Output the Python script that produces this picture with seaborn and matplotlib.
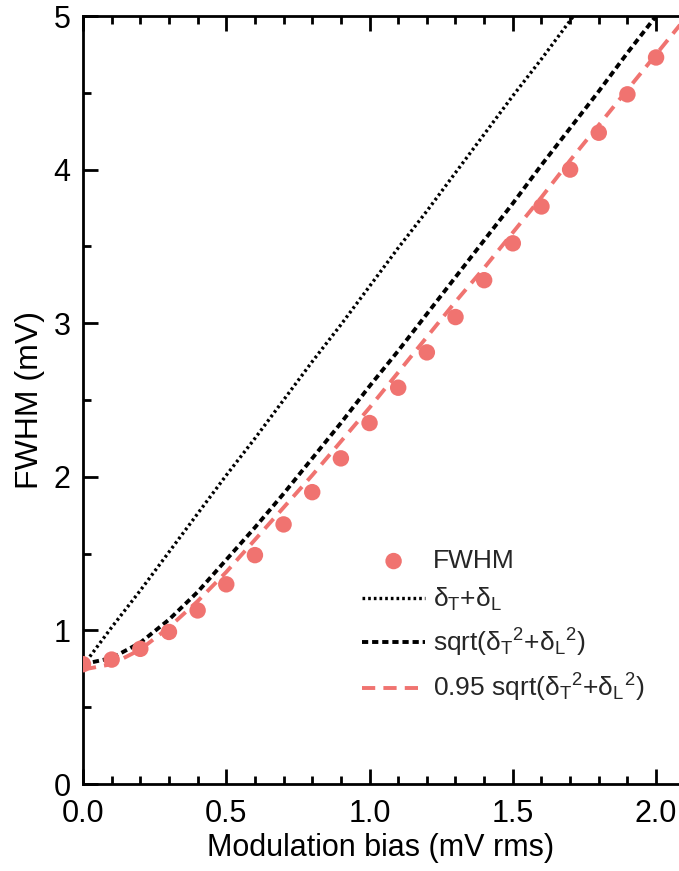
import matplotlib
matplotlib.use("Agg")
import matplotlib.pyplot as plt
import seaborn as sns
import pandas as pd
from matplotlib.ticker import MultipleLocator

sns.set_theme(style="ticks")
plt.rcParams['font.family'] = ['Liberation Sans', 'DejaVu Sans']
plt.rcParams['mathtext.fontset'] = 'custom'
plt.rcParams['mathtext.rm'] = 'Liberation Sans'
plt.rcParams['mathtext.it'] = 'Liberation Sans'

# Measured FWHM points
bias = [0.0, 0.1, 0.2, 0.3, 0.4, 0.5, 0.6, 0.7, 0.8, 0.9, 1.0,
        1.1, 1.2, 1.3, 1.4, 1.5, 1.6, 1.7, 1.8, 1.9, 2.0]
fwhm = [0.78, 0.81, 0.88, 0.99, 1.13, 1.30, 1.49, 1.69, 1.90, 2.12, 2.35,
        2.58, 2.81, 3.04, 3.28, 3.52, 3.76, 4.00, 4.24, 4.49, 4.73]

# Curves
curve_x = [0.0, 0.1, 0.2, 0.3, 0.4, 0.5, 0.6, 0.7, 0.8, 0.9, 1.0,
           1.1, 1.2, 1.3, 1.4, 1.5, 1.6, 1.7, 1.8, 1.9, 2.0, 2.1]
sum_y = [0.77, 1.02, 1.26, 1.51, 1.76, 2.01, 2.25, 2.50, 2.75, 2.99, 3.24,
         3.49, 3.73, 3.98, 4.23, 4.48, 4.72, 4.97, 5.22, 5.46, 5.71, 5.96]
quad_y = [0.78, 0.82, 0.92, 1.07, 1.25, 1.46, 1.67, 1.89, 2.12, 2.35, 2.59,
          2.82, 3.06, 3.30, 3.54, 3.78, 4.03, 4.27, 4.51, 4.76, 5.00, 5.24]
scaled_y = [0.745, 0.78, 0.875, 1.02, 1.19, 1.38, 1.59, 1.80, 2.01, 2.23, 2.45,
            2.68, 2.91, 3.14, 3.36, 3.59, 3.82, 4.06, 4.29, 4.52, 4.75, 4.98]

x_ticks = [0.0, 0.5, 1.0, 1.5, 2.0]
y_ticks = [0, 1, 2, 3, 4, 5]

red = '#F07370'

df_pts = pd.DataFrame({'x': bias, 'y': fwhm})
df_cur = pd.DataFrame({'x': curve_x, 'sum': sum_y, 'quad': quad_y, 'scaled': scaled_y})

fig = plt.figure(figsize=(6.79, 8.71), dpi=100)
ax = fig.add_axes([83/679, 87/871, 1 - 83/679, (784 - 16)/871])

sns.lineplot(data=df_cur, x='x', y='sum', ax=ax, color='black', lw=2.4,
             linestyle=(0, (0.8, 0.9)),
             label=r'$\mathregular{\delta_T}$+$\mathregular{\delta_L}$')
sns.lineplot(data=df_cur, x='x', y='quad', ax=ax, color='black', lw=2.8,
             linestyle=(0, (1.6, 1.0)),
             label=r'sqrt($\mathregular{\delta_T{}^2}$+$\mathregular{\delta_L{}^2}$)')
sns.lineplot(data=df_cur, x='x', y='scaled', ax=ax, color=red, lw=2.8,
             linestyle=(0, (3.4, 2.1)),
             label=r'0.95 sqrt($\mathregular{\delta_T{}^2}$+$\mathregular{\delta_L{}^2}$)')
sns.scatterplot(data=df_pts, x='x', y='y', ax=ax, color=red, s=140,
                edgecolor='none', label='FWHM', zorder=5)

ax.set_xlim(0, 2.08)
ax.set_ylim(0, 5)
ax.set_xticks(x_ticks)
ax.set_xticklabels([f'{v:.1f}' for v in x_ticks])
ax.set_yticks(y_ticks)
ax.xaxis.set_minor_locator(MultipleLocator(0.1))
ax.yaxis.set_minor_locator(MultipleLocator(0.5))
ax.tick_params(which='both', direction='in', top=True, right=False, width=2,
               labelsize=22, color='black', labelcolor='black')
ax.tick_params(axis='x', which='major', pad=11)
ax.tick_params(axis='y', which='major', pad=9)
ax.tick_params(which='major', length=11)
ax.tick_params(which='minor', length=6)
for s in ['left', 'bottom', 'top']:
    ax.spines[s].set_linewidth(2)
    ax.spines[s].set_color('black')
ax.spines['right'].set_visible(False)

ax.set_xlabel('Modulation bias (mV rms)', fontsize=22, labelpad=3, color='black')
ax.set_ylabel('FWHM (mV)', fontsize=23, labelpad=6, color='black')

handles, labels = ax.get_legend_handles_labels()
order = [3, 0, 1, 2]
ax.legend([handles[i] for i in order], [labels[i] for i in order],
          loc='upper left', bbox_to_anchor=(0.468, 0.306), frameon=False,
          borderpad=0, borderaxespad=0,
          fontsize=19, handlelength=2.4, handletextpad=0.3, labelspacing=0.5)

fig.savefig('out.png', dpi=100)
